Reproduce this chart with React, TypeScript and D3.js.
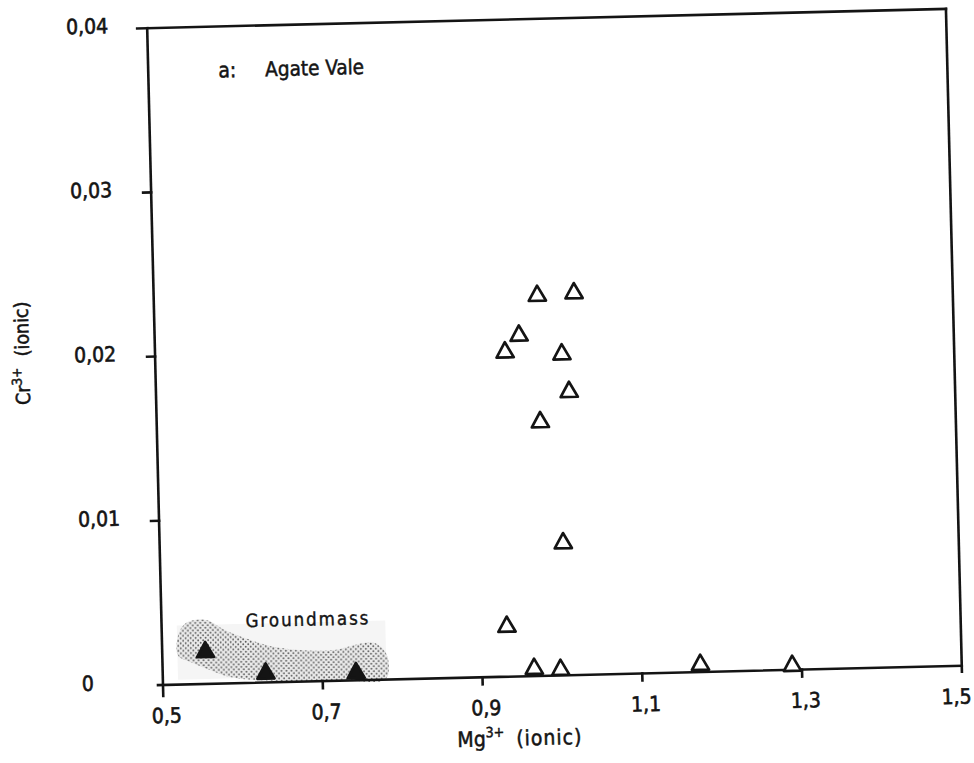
import React from 'react';
import * as d3 from 'd3';

// Phenocryst analyses (open triangles)
const phenoMg = [0.980, 1.026, 0.956, 0.938, 1.009, 1.017, 0.980, 1.005, 0.932, 0.965, 0.998, 1.173, 1.288];
const phenoCr = [0.0233, 0.0234, 0.0209, 0.0199, 0.0197, 0.0174, 0.0156, 0.0082, 0.0032, 0.0006, 0.0005, 0.0006, 0.0004];

// Groundmass analyses (filled triangles)
const groundMg = [0.554, 0.629, 0.742];
const groundCr = [0.0021, 0.0007, 0.0006];

// Outline of the shaded groundmass field, in data units
const fieldMg = [0.519, 0.529, 0.555, 0.579, 0.604, 0.635, 0.672, 0.716, 0.741, 0.766, 0.781, 0.779, 0.722, 0.646, 0.584, 0.559, 0.535, 0.520];
const fieldCr = [0.00272, 0.00368, 0.0039, 0.00326, 0.00274, 0.00222, 0.00193, 0.00188, 0.00216, 0.00225, 0.0015, 0.00004, 0.00004, 0.00006, 0.00039, 0.00085, 0.00136, 0.00174];

const xTicks = [0.5, 0.7, 0.9, 1.1, 1.3, 1.5];
const yTicks = [0, 0.01, 0.02, 0.03, 0.04];

const W = 974;
const H = 763;
const plotW = 799;
const plotH = 657;
const tilt = -1.38;

const font = "'DejaVu Sans Condensed', 'DejaVu Sans', sans-serif";
const ink = '#141414';

const tri = 'M0,-7.6 L8.6,7.6 L-8.6,7.6 Z';

export default function App() {
  const x = d3.scaleLinear().domain([0.5, 1.5]).range([0, plotW]);
  const y = d3.scaleLinear().domain([0, 0.04]).range([0, -plotH]);

  const fieldPts: [number, number][] = fieldMg.map((m, i) => [x(m), y(fieldCr[i])]);
  const fieldPath = d3.line().curve(d3.curveCatmullRomClosed.alpha(0.5))(fieldPts) || '';

  const fmtX = d3.format('.1f');
  const fmtY = d3.format('.2f');
  const label = (s: string) => s.replace('.', ',');

  return (
    <svg
      width={W}
      height={H}
      viewBox={`0 0 ${W} ${H}`}
      style={{ position: 'absolute', left: 0, top: 0, background: '#fff' }}
    >
      <defs>
        <pattern id="stipple" patternUnits="userSpaceOnUse" width="5" height="5">
          <circle cx="1.2" cy="1.2" r="0.95" fill="#5a5a5a" />
          <circle cx="3.7" cy="3.7" r="0.95" fill="#5a5a5a" />
        </pattern>
      </defs>
      <rect width={W} height={H} fill="#fff" />
      <g transform={`translate(163,685) rotate(${tilt})`} fontFamily={font} fill={ink}>
        {/* groundmass field */}
        <rect
          x={x(0.519)}
          y={y(0.0036)}
          width={x(0.78) - x(0.519)}
          height={y(0.0003) - y(0.0036)}
          fill="#f5f5f5"
        />
        <path d={fieldPath} fill="#ececec" />
        <path d={fieldPath} fill="url(#stipple)" />

        {/* frame and ticks */}
        <g stroke={ink} strokeWidth={2.6} fill="none" strokeLinecap="square">
          <line x1={0} y1={11} x2={0} y2={y(0.04)} />
          <line x1={-5} y1={0} x2={plotW} y2={0} />
          <line x1={-10} y1={y(0.04)} x2={plotW} y2={y(0.04)} />
          <line x1={plotW} y1={y(0.04)} x2={plotW} y2={6} />
          {yTicks.slice(1, -1).map((t) => (
            <line key={t} x1={-8} y1={y(t)} x2={0} y2={y(t)} />
          ))}
          {xTicks.slice(1, -1).map((t) => (
            <line key={t} x1={x(t)} y1={0} x2={x(t)} y2={7} />
          ))}
        </g>

        {/* tick labels */}
        {xTicks.map((t) => (
          <text
            key={t}
            x={Math.min(x(t) + 3, plotW - 6)}
            y={38}
            textAnchor="middle"
            fontSize={21}
            stroke={ink}
            strokeWidth={0.6}
          >
            {label(fmtX(t))}
          </text>
        ))}
        {yTicks.map((t) => (
          <text key={t} x={-81} y={y(t) + 4} textAnchor="start" fontSize={21} stroke={ink} strokeWidth={0.6}>
            {t === 0 ? '0' : label(fmtY(t))}
          </text>
        ))}

        {/* axis titles */}
        <text x={293} y={69} fontSize={21} stroke={ink} strokeWidth={0.5}>
          Mg
          <tspan dy={-9} fontSize={14}>3+</tspan>
          <tspan dy={9} dx={12} letterSpacing={1}>(ionic)</tspan>
        </text>
        <text
          transform={`translate(-126,${y(0.0204)}) rotate(-90)`}
          textAnchor="middle"
          fontSize={19.5}
          stroke={ink}
          strokeWidth={0.5}
        >
          Cr
          <tspan dy={-8} fontSize={13.5}>3+</tspan>
          <tspan dy={8} dx={11}>(ionic)</tspan>
        </text>

        {/* panel title and field label */}
        <text x={70} y={y(0.0369)} fontSize={21} stroke={ink} strokeWidth={0.5}>a:</text>
        <text x={117} y={y(0.0369)} fontSize={20.5} stroke={ink} strokeWidth={0.5}>
          Agate Vale
        </text>
        <text x={84} y={y(0.0034)} fontSize={18.5} letterSpacing={2} stroke={ink} strokeWidth={0.4}>
          Groundmass
        </text>

        {/* points */}
        {groundMg.map((m, i) => (
          <path
            key={`g${i}`}
            d={tri}
            transform={`translate(${x(m)},${y(groundCr[i])})`}
            fill={ink}
            stroke={ink}
            strokeWidth={2.6}
            strokeLinejoin="round"
          />
        ))}
        {phenoMg.map((m, i) => (
          <path
            key={`p${i}`}
            d={tri}
            transform={`translate(${x(m)},${y(phenoCr[i])})`}
            fill="#fff"
            stroke={ink}
            strokeWidth={2.7}
            strokeLinejoin="round"
          />
        ))}
      </g>
    </svg>
  );
}
